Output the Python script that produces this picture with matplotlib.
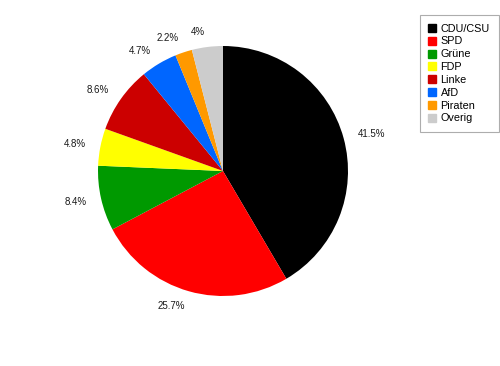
import matplotlib.pyplot as plt
from matplotlib.lines import Line2D

parties = ['CDU/CSU', 'SPD', 'Grüne', 'FDP', 'Linke', 'AfD', 'Piraten', 'Overig']
shares = [41.5, 25.7, 8.4, 4.8, 8.6, 4.7, 2.2, 4]
labels = ['41.5%', '25.7%', '8.4%', '4.8%', '8.6%', '4.7%', '2.2%', '4%']
colors = ['#000000', '#ff0000', '#009900', '#ffff00', '#cc0000', '#0066ff', '#ff9900', '#cccccc']

plt.rcParams['font.family'] = ['Liberation Sans', 'DejaVu Sans']

fig = plt.figure(figsize=(5, 3.66), dpi=100)
ax = fig.add_axes([98 / 500, 70 / 366, 250 / 500, 250 / 366])

# labels sit just outside the rim, aligned away from the pie
wedges, texts = ax.pie(shares, labels=labels, colors=colors, startangle=90,
                       counterclock=False, labeldistance=1.12,
                       textprops={'fontsize': 7, 'color': '#1a1a1a'},
                       wedgeprops={'linewidth': 0})
ax.set_xlim(-1, 1)
ax.set_ylim(-1, 1)
ax.set_aspect('equal')
ax.axis('off')

handles = [Line2D([], [], marker='s', linestyle='', markersize=5.5,
                  markerfacecolor=c, markeredgecolor=c) for c in colors]
leg = fig.legend(handles, parties, loc='upper left',
                 bbox_to_anchor=(420 / 500, 1 - 15 / 366),
                 fontsize=7.8, frameon=True, fancybox=False,
                 handlelength=0.7, handletextpad=0.4, labelspacing=0.26,
                 borderpad=0.8, borderaxespad=0)
leg.get_frame().set_edgecolor('#999999')
leg.get_frame().set_linewidth(0.8)

fig.savefig('out.png', dpi=100)
